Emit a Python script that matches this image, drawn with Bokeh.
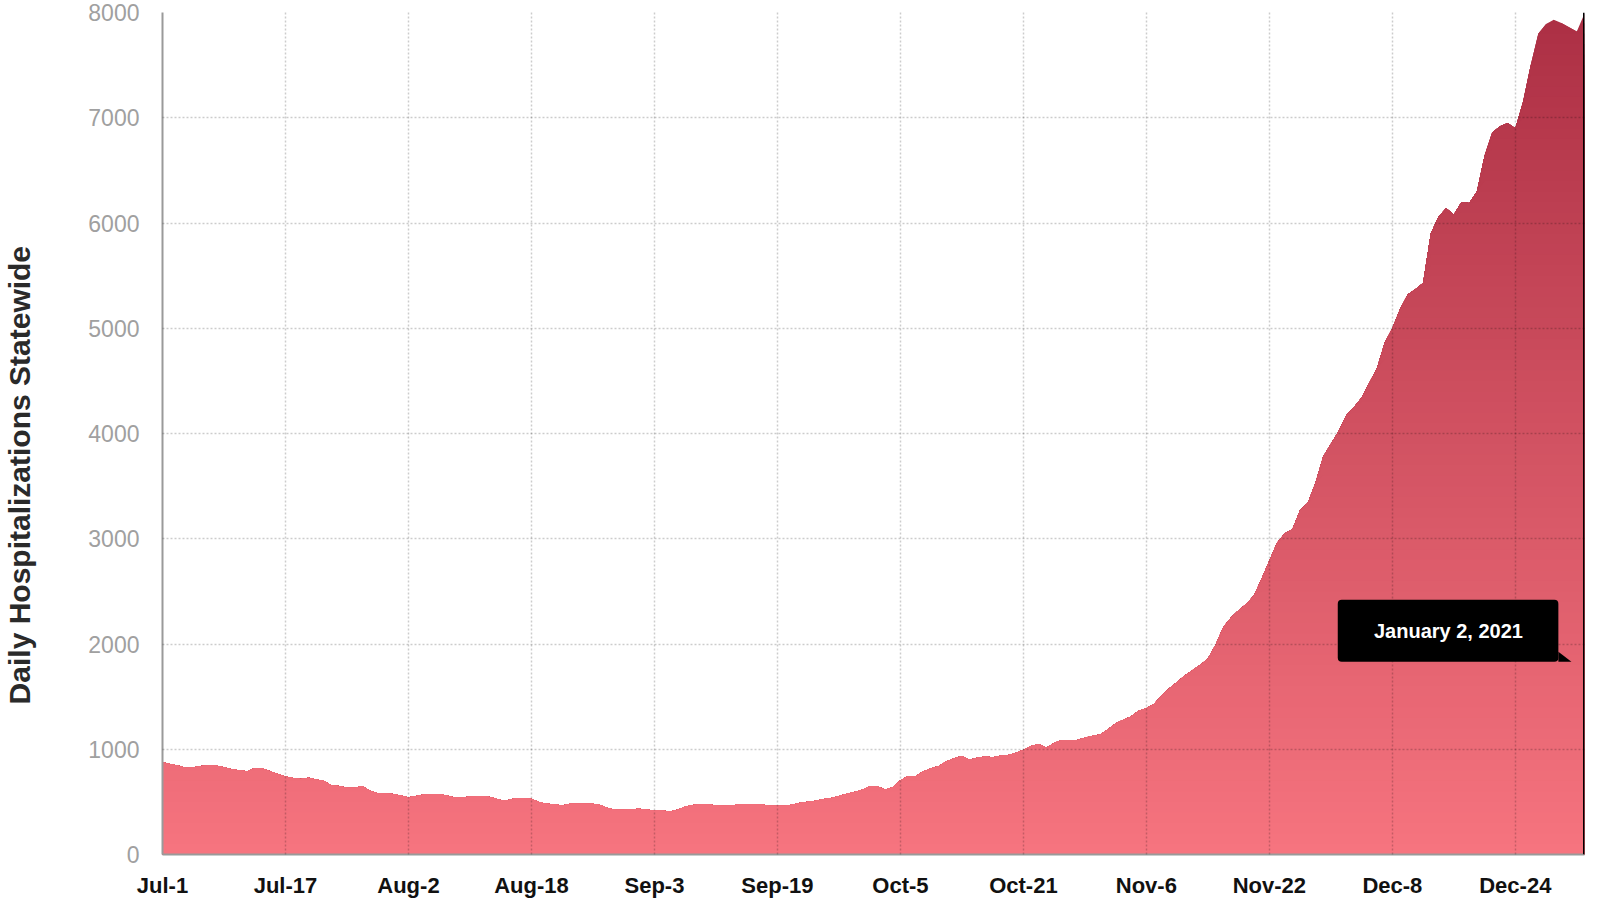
import numpy as np
from bokeh.plotting import figure
from bokeh.models import Range1d, FixedTicker, Span, Label, BoxAnnotation, PolyAnnotation
from bokeh.embed import file_html
from bokeh.resources import INLINE

# ---------------- data ----------------
# Daily statewide hospitalizations, one value per day from Jul 1, 2020 to Jan 2, 2021
hospitalizations = [
    876, 860, 845, 825, 830, 842, 845, 845, 830, 810,
    800, 790, 822, 820, 790, 765, 742, 728, 718, 730,
    712, 700, 655, 650, 635, 635, 650, 605, 582, 580,
    575, 560, 545, 555, 570, 576, 576, 560, 541, 541,
    550, 557, 557, 540, 519, 519, 536, 538, 530, 500,
    481, 478, 466, 481, 481, 481, 481, 470, 440, 424,
    424, 430, 435, 424, 420, 418, 408, 425, 455, 470,
    478, 478, 465, 462, 465, 478, 478, 478, 475, 462,
    462, 462, 475, 492, 502, 510, 528, 538, 555, 578,
    595, 615, 648, 648, 618, 640, 705, 746, 746, 790,
    819, 840, 885, 915, 936, 900, 920, 930, 925, 938,
    946, 965, 995, 1030, 1050, 1015, 1060, 1088, 1088, 1088,
    1110, 1129, 1140, 1190, 1245, 1280, 1310, 1365, 1390, 1430,
    1510, 1580, 1640, 1700, 1750, 1800, 1860, 1990, 2160, 2250,
    2320, 2380, 2460, 2620, 2790, 2960, 3050, 3090, 3270, 3340,
    3530, 3780, 3900, 4020, 4170, 4250, 4340, 4480, 4620, 4860,
    5000, 5180, 5320, 5370, 5430, 5900, 6060, 6140, 6080, 6200,
    6190, 6300, 6640, 6860, 6920, 6950, 6900, 7150, 7500, 7800,
    7890, 7930, 7900, 7860, 7820, 7990,
]
tick_labels = ["Jul-1", "Jul-17", "Aug-2", "Aug-18", "Sep-3", "Sep-19",
               "Oct-5", "Oct-21", "Nov-6", "Nov-22", "Dec-8", "Dec-24"]
tick_step_days = 16
y_ticks = [0, 1000, 2000, 3000, 4000, 5000, 6000, 7000, 8000]
y_label = "Daily Hospitalizations Statewide"
tooltip_text = "January 2, 2021"

days = np.arange(len(hospitalizations))
vals = np.array(hospitalizations, dtype=float)
tick_days = [i * tick_step_days for i in range(len(tick_labels))]
ymax = y_ticks[-1]

# ---------------- figure ----------------
p = figure(width=1602, height=900,
           x_range=Range1d(days[0], days[-1]), y_range=Range1d(0, ymax),
           output_backend="svg", toolbar_location=None,
           min_border_left=160, min_border_right=18,
           min_border_top=12, min_border_bottom=45)
p.outline_line_color = None
p.background_fill_color = "white"
p.border_fill_color = "white"

# vertical gradient fill, built from stacked bands
bottom_rgb = np.array([246, 116, 127], dtype=float)
top_rgb = np.array([172, 47, 68], dtype=float)
N = 80
for k in range(N):
    hi = ymax * (N - k) / N
    t = (hi - ymax / (2 * N)) / ymax
    c = bottom_rgb + (top_rgb - bottom_rgb) * t
    color = "#%02x%02x%02x" % tuple(int(round(v)) for v in c)
    p.varea(x=days, y1=0, y2=np.minimum(vals, hi), fill_color=color, fill_alpha=1.0)

# grid
p.grid.grid_line_color = "black"
p.grid.grid_line_alpha = 0.2
p.grid.grid_line_dash = "2 2"
p.grid.grid_line_width = 1.5
p.grid.level = "guide"

# x axis
p.xaxis.ticker = FixedTicker(ticks=tick_days)
p.xaxis.major_label_overrides = {d: lbl for d, lbl in zip(tick_days, tick_labels)}
p.xaxis.axis_line_color = "#9a9a9a"
p.xaxis.axis_line_width = 2
p.xaxis.major_tick_line_color = None
p.xaxis.minor_tick_line_color = None
p.xaxis.major_tick_out = 0
p.xaxis.major_tick_in = 0
p.xaxis.minor_tick_out = 0
p.xaxis.minor_tick_in = 0
p.xaxis.major_label_text_font = "Liberation Sans"
p.xaxis.major_label_text_font_size = "22px"
p.xaxis.major_label_text_font_style = "bold"
p.xaxis.major_label_text_color = "#111111"
p.xaxis.major_label_standoff = 18

# y axis
p.yaxis.ticker = FixedTicker(ticks=y_ticks)
p.yaxis.axis_line_color = "#9a9a9a"
p.yaxis.axis_line_width = 2
p.yaxis.major_tick_line_color = None
p.yaxis.minor_tick_line_color = None
p.yaxis.major_tick_out = 0
p.yaxis.major_tick_in = 0
p.yaxis.minor_tick_out = 0
p.yaxis.minor_tick_in = 0
p.yaxis.major_label_text_font = "Liberation Sans"
p.yaxis.major_label_text_font_size = "23px"
p.yaxis.major_label_text_color = "#a0a0a0"
p.yaxis.major_label_standoff = 23
# trailing no-break spaces shift the visible title a little below the frame centre
p.yaxis.axis_label = y_label + "\u00a0" * 10
p.yaxis.axis_label_text_font = "Liberation Sans"
p.yaxis.axis_label_text_font_size = "30px"
p.yaxis.axis_label_text_font_style = "bold"
p.yaxis.axis_label_text_color = "#2a2a2a"
p.yaxis.axis_label_standoff = 49

# hover crosshair at the last date
p.add_layout(Span(location=days[-1], dimension="height", line_color="black", line_width=3))

# tooltip
last = days[-1]
p.add_layout(BoxAnnotation(left=last - 32.1, right=last - 3.4, bottom=1832, top=2420,
                           fill_color="black", fill_alpha=1.0, line_color=None,
                           border_radius=4))
p.add_layout(PolyAnnotation(xs=[last - 3.4, last - 3.4, last - 1.7], ys=[1926, 1832, 1832],
                            fill_color="black", fill_alpha=1.0, line_color=None))
p.add_layout(Label(x=last - 17.7, y=2126, text=tooltip_text,
                   text_align="center", text_baseline="middle",
                   text_color="white", text_font="Liberation Sans",
                   text_font_size="20px", text_font_style="bold"))

open("out.html", "w").write(file_html(p, INLINE))
